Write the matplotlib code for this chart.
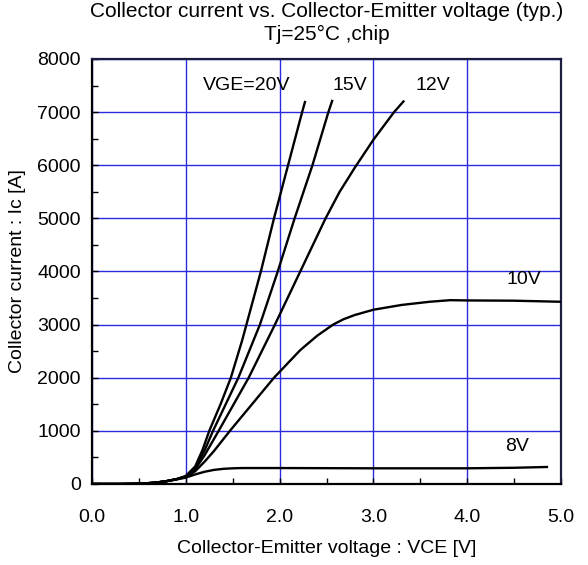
import matplotlib
matplotlib.use("Agg")
import matplotlib.pyplot as plt
from matplotlib.ticker import MultipleLocator

plt.rcParams['font.family'] = ['Liberation Sans', 'DejaVu Sans']

# VGE = 20V
v20 = [0, 0.3, 0.5, 0.6, 0.7, 0.8, 0.9, 1.0, 1.1, 1.18, 1.25, 1.37, 1.48, 1.60, 1.80, 1.94, 2.09, 2.24, 2.27]
i20 = [0, 0, 5, 15, 30, 55, 90, 150, 330, 650, 1000, 1500, 2000, 2700, 4000, 5000, 6000, 7000, 7190]
# VGE = 15V
v15 = [0, 0.3, 0.5, 0.6, 0.7, 0.8, 0.9, 1.0, 1.1, 1.2, 1.29, 1.56, 1.79, 1.98, 2.16, 2.35, 2.52, 2.56]
i15 = [0, 0, 5, 15, 30, 55, 90, 145, 310, 630, 1000, 2000, 3000, 4000, 5000, 6000, 7000, 7210]
# VGE = 12V
v12 = [0, 0.3, 0.5, 0.6, 0.7, 0.8, 0.9, 1.0, 1.1, 1.2, 1.35, 1.67, 1.95, 2.22, 2.49, 2.64, 2.80, 3.0, 3.22, 3.32]
i12 = [0, 0, 5, 15, 30, 55, 90, 140, 280, 540, 1000, 2000, 3000, 4000, 5000, 5500, 5950, 6480, 7000, 7200]
# VGE = 10V
v10 = [0, 0.3, 0.5, 0.6, 0.7, 0.8, 0.9, 1.0, 1.1, 1.2, 1.3, 1.47, 1.94, 2.22, 2.40, 2.57, 2.68, 2.80, 3.0,
       3.3, 3.6, 3.82, 4.0, 4.5, 5.0]
i10 = [0, 0, 5, 15, 30, 55, 90, 130, 240, 420, 620, 1000, 2000, 2520, 2790, 3000, 3100, 3180, 3280,
       3370, 3430, 3460, 3455, 3450, 3430]
# VGE = 8V
v8 = [0, 0.3, 0.5, 0.6, 0.7, 0.8, 0.9, 1.0, 1.1, 1.2, 1.3, 1.4, 1.5, 1.6, 2.0, 3.0, 4.0, 4.5, 4.85]
i8 = [0, 0, 5, 15, 30, 55, 85, 120, 180, 230, 265, 285, 295, 300, 300, 295, 295, 305, 320]

curve_labels = ['VGE=20V', '15V', '12V', '10V', '8V']
label_pos = [(1.18, 7510), (2.56, 7510), (3.45, 7510), (4.42, 3840), (4.40, 700)]

fig = plt.figure(figsize=(5.88, 5.65), dpi=100)
ax = fig.add_axes([0.1565, 0.1434, 0.7976, 0.7522])

for v, i in [(v20, i20), (v15, i15), (v12, i12), (v10, i10), (v8, i8)]:
    ax.plot(v, i, color='black', lw=1.7, zorder=3)

for txt, (x, y) in zip(curve_labels, label_pos):
    ax.text(x, y, txt, fontsize=14, ha='left', va='center')

ax.set_xlim(0, 5)
ax.set_ylim(0, 8000)
ax.xaxis.set_major_locator(MultipleLocator(1))
ax.xaxis.set_minor_locator(MultipleLocator(0.5))
ax.yaxis.set_major_locator(MultipleLocator(1000))
ax.yaxis.set_minor_locator(MultipleLocator(500))
ax.xaxis.set_major_formatter(plt.FuncFormatter(lambda x, p: '%.1f' % x))
ax.grid(True, which='major', color='#2a2ae0', lw=1.0)
ax.tick_params(which='both', direction='in', length=4, width=1, labelsize=14)
ax.tick_params(axis='x', pad=18)
ax.tick_params(axis='y', pad=8)

for s in ['left', 'bottom']:
    ax.spines[s].set_linewidth(1.6)
    ax.spines[s].set_color('black')
for s in ['top', 'right']:
    ax.spines[s].set_linewidth(1.6)
    ax.spines[s].set_color('#1c1c40')

ax.set_title('Collector current vs. Collector-Emitter voltage (typ.)\nTj=25°C ,chip',
             fontsize=15, linespacing=1.2, pad=14)
ax.set_xlabel('Collector-Emitter voltage : VCE [V]', fontsize=14, labelpad=10)
ax.set_ylabel('Collector current : Ic [A]', fontsize=14, labelpad=8)

fig.savefig('out.png', dpi=100)
